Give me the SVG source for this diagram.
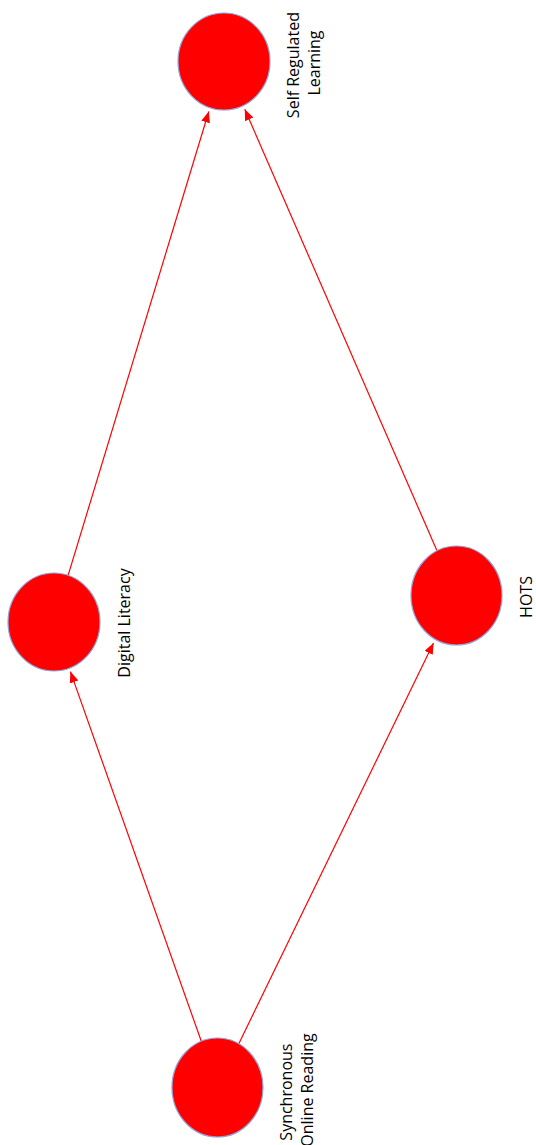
<svg xmlns="http://www.w3.org/2000/svg" width="536" height="1145" viewBox="0 0 536 1145">
  <style>
    .node { fill: #ff0000; stroke: #8ea6dc; stroke-width: 1.2; }
    .label { font-family: "Open Sans", "Noto Sans", "Liberation Sans", sans-serif; font-size: 16px; fill: #000000; text-anchor: middle; }
    .edge { stroke: #ff0000; stroke-width: 1.2; fill: none; marker-end: url(#arrow); }
  </style>
  <defs>
    <marker id="arrow" markerUnits="userSpaceOnUse" markerWidth="12" markerHeight="10" refX="11" refY="4.5" orient="auto">
      <path d="M0,0 L11,4.5 L0,9 z" fill="#ff0000"/>
    </marker>
  </defs>

  <g id="connectors">
    <line class="edge" x1="201.3" y1="1041.3" x2="70.4" y2="671.6"/>
    <line class="edge" x1="238.8" y1="1043.7" x2="433.5" y2="642.9"/>
    <line class="edge" x1="68.1" y1="575.4" x2="208.8" y2="111.5"/>
    <line class="edge" x1="437" y1="550.8" x2="244.8" y2="109.3"/>
  </g>

  <g id="node-self-regulated-learning">
    <ellipse class="node" cx="224" cy="61.5" rx="46" ry="48.5"/>
    <text class="label" transform="translate(299,63) rotate(-90)">
      <tspan x="0" y="0">Self Regulated</tspan>
      <tspan x="0" y="21">Learning</tspan>
    </text>
  </g>

  <g id="node-digital-literacy">
    <ellipse class="node" cx="54" cy="622" rx="46" ry="49"/>
    <text class="label" transform="translate(130,623) rotate(-90)">Digital Literacy</text>
  </g>

  <g id="node-hots">
    <ellipse class="node" cx="456.5" cy="595.5" rx="45.5" ry="49.5"/>
    <text class="label" transform="translate(532,597) rotate(-90)">HOTS</text>
  </g>

  <g id="node-synchronous-online-reading">
    <ellipse class="node" cx="217.5" cy="1087.5" rx="45.5" ry="49.5"/>
    <text class="label" transform="translate(292,1090) rotate(-90)">
      <tspan x="0" y="0">Synchronous</tspan>
      <tspan x="0" y="21">Online Reading</tspan>
    </text>
  </g>
</svg>
